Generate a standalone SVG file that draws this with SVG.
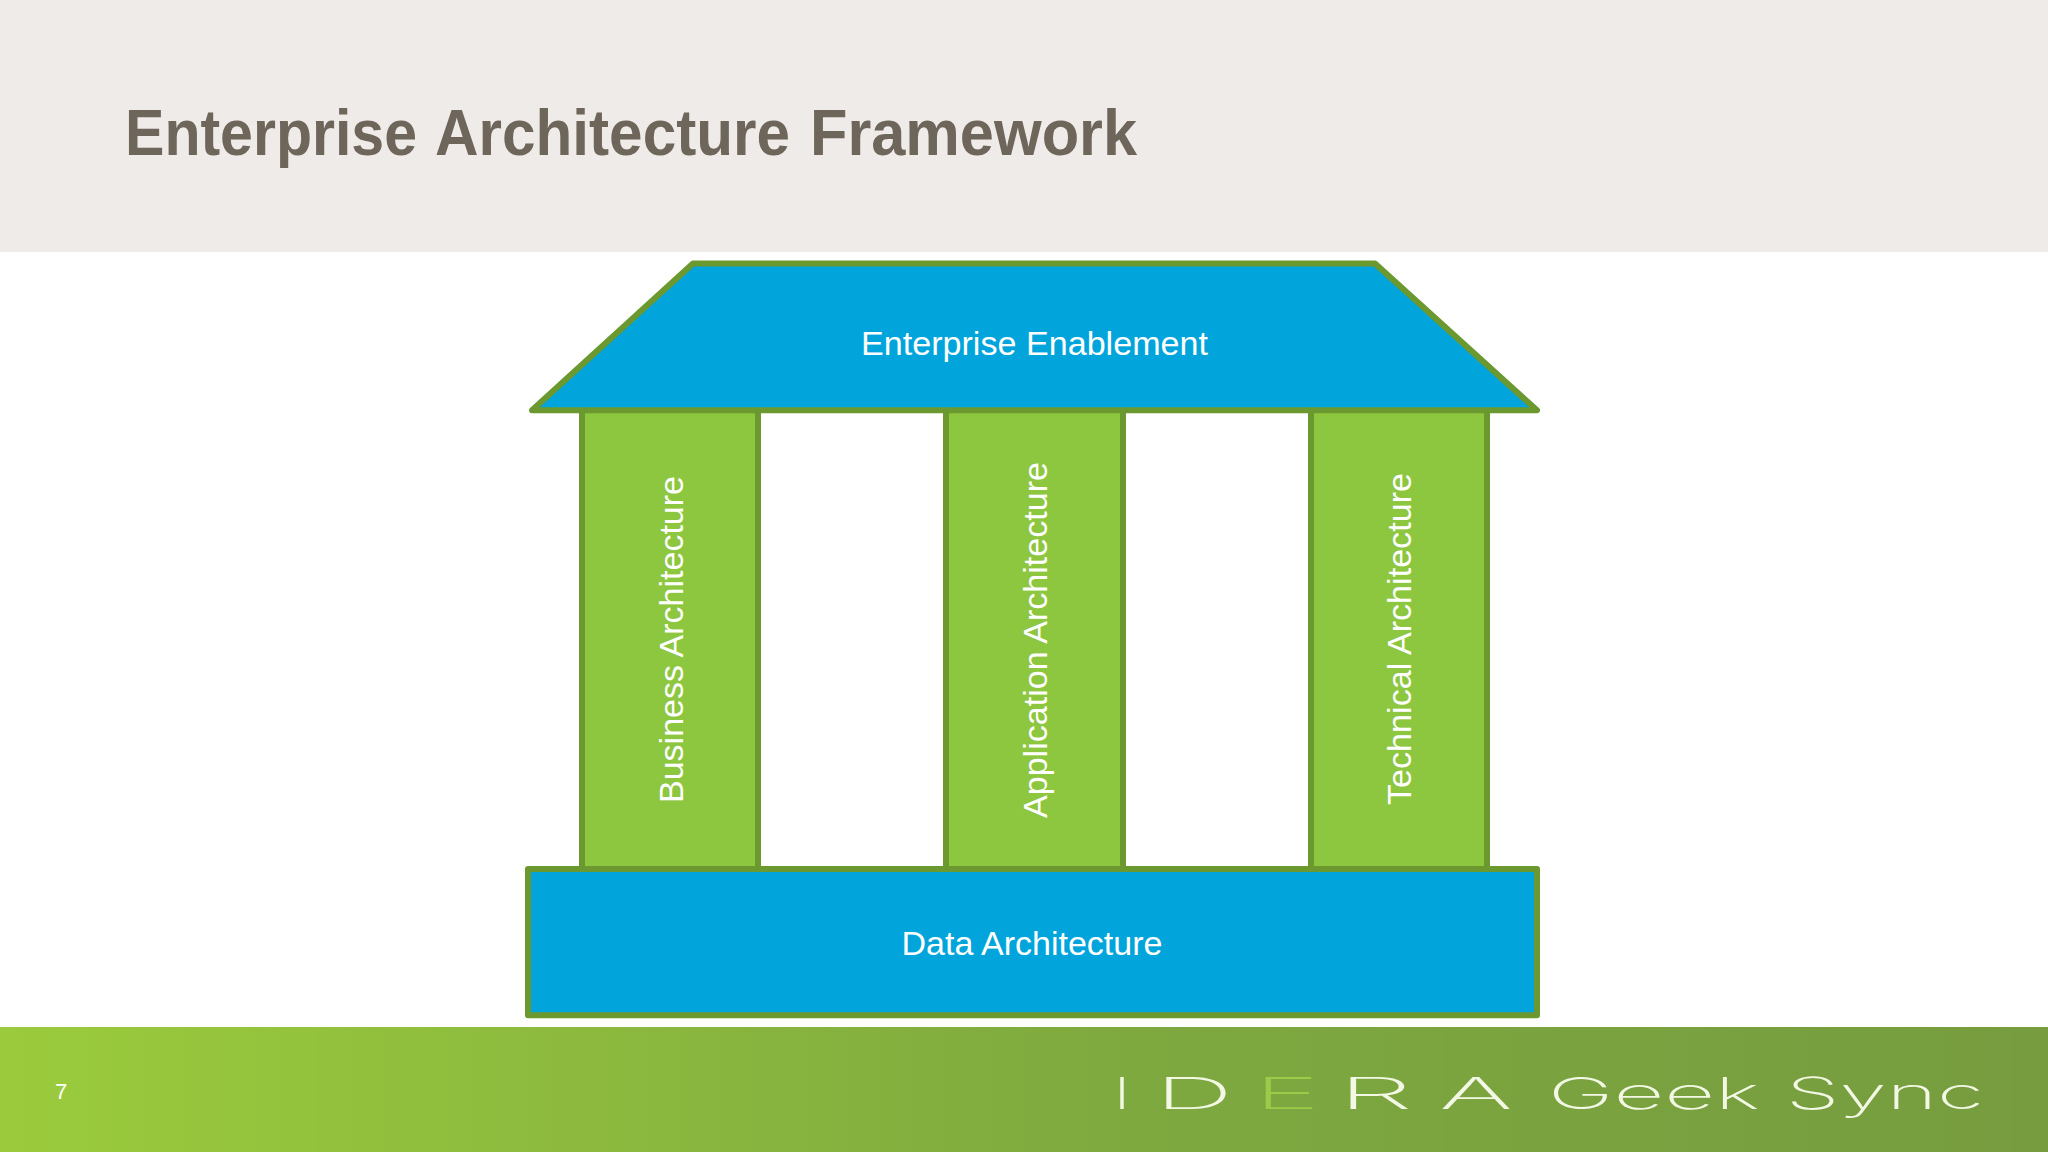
<svg xmlns="http://www.w3.org/2000/svg" width="2048" height="1152" viewBox="0 0 2048 1152">
<style>
.s{stroke:#6b982f;stroke-width:6;stroke-linejoin:round}
.b{fill:#02a4dc}
.g{fill:#8dc63f}
.t{font-family:"Liberation Sans",Arial,sans-serif;font-size:34px;fill:#fff}
.l{font-family:"Inter","Liberation Sans",sans-serif;font-size:44px;font-weight:200;fill:#f2f8e4}
</style>
<defs>
<linearGradient id="f" x1="0" y1="0" x2="1" y2="0">
<stop offset="0" stop-color="#9bcb3c"/>
<stop offset="0.55" stop-color="#7ea93f"/>
<stop offset="1" stop-color="#769c3f"/>
</linearGradient>
</defs>
<rect width="2048" height="1152" fill="#fff"/>
<rect width="2048" height="252" fill="#efebe9"/>
<text y="155" font-family="Liberation Sans, Arial, sans-serif" font-weight="700" font-size="64" fill="#6e665b"><tspan x="125" textLength="292" lengthAdjust="spacingAndGlyphs">Enterprise</tspan> <tspan x="435" textLength="355" lengthAdjust="spacingAndGlyphs">Architecture</tspan> <tspan x="810" textLength="327" lengthAdjust="spacingAndGlyphs">Framework</tspan></text>
<rect y="1027" width="2048" height="125" fill="url(#f)"/>
<text x="55" y="1099" font-family="Liberation Sans, Arial, sans-serif" font-size="22" fill="#fff">7</text>
<g id="logo">
<text class="l" x="1112.500" y="1109" textLength="19" lengthAdjust="spacingAndGlyphs">I</text>
<text class="l" x="1155" y="1109" textLength="78" lengthAdjust="spacingAndGlyphs">D</text>
<text class="l" x="1254" y="1109" textLength="66" lengthAdjust="spacingAndGlyphs" style="fill:#9ccb4a">E</text>
<text class="l" x="1338" y="1109" textLength="75" lengthAdjust="spacingAndGlyphs">R</text>
<text class="l" x="1439" y="1109" textLength="74" lengthAdjust="spacingAndGlyphs">A</text>
<text class="l" x="1548" y="1109" textLength="212" lengthAdjust="spacingAndGlyphs">Geek</text>
<text class="l" x="1786" y="1109" textLength="198" lengthAdjust="spacingAndGlyphs">Sync</text>
</g>
<g id="pillar-business">
<rect class="s g" x="582" y="410" width="176" height="459"/>
<text class="t" transform="translate(682.500 803) rotate(-90)" textLength="327" lengthAdjust="spacingAndGlyphs">Business Architecture</text>
</g>
<g id="pillar-application">
<rect class="s g" x="946" y="410" width="177" height="459"/>
<text class="t" transform="translate(1046.500 818) rotate(-90)" textLength="356" lengthAdjust="spacingAndGlyphs">Application Architecture</text>
</g>
<g id="pillar-technical">
<rect class="s g" x="1311" y="410" width="176" height="459"/>
<text class="t" transform="translate(1411 805) rotate(-90)" textLength="332" lengthAdjust="spacingAndGlyphs">Technical Architecture</text>
</g>
<g id="roof">
<polygon class="s b" points="693,263.500 1375,263.500 1537,410.300 532,410.300"/>
<text class="t" x="861" y="355" textLength="347" lengthAdjust="spacingAndGlyphs">Enterprise Enablement</text>
</g>
<g id="base">
<rect class="s b" x="528" y="869" width="1009" height="146.300"/>
<text class="t" x="901.500" y="955" textLength="261" lengthAdjust="spacingAndGlyphs">Data Architecture</text>
</g>
<g id="connectors"/>
</svg>
